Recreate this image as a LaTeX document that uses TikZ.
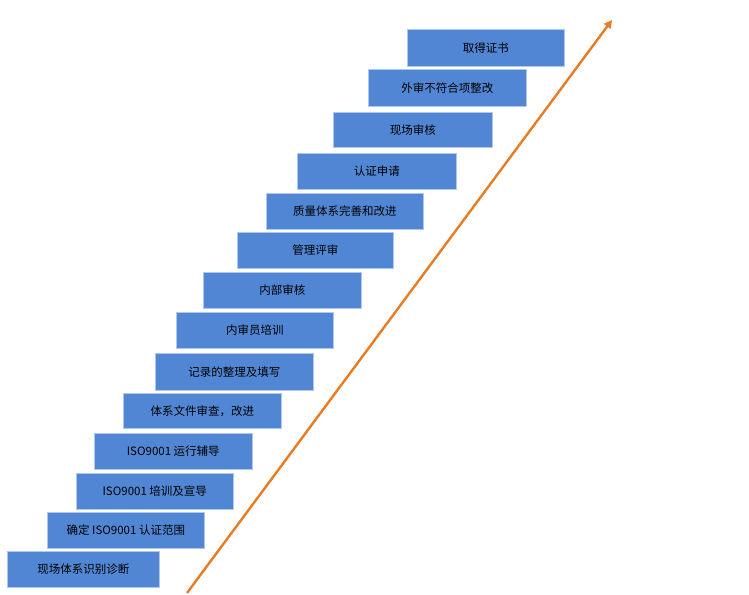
\documentclass[tikz,border=0pt]{standalone}
\usepackage{fontspec}
\newfontfamily\cjk{Noto Sans CJK SC}
\usetikzlibrary{arrows.meta}
\definecolor{boxblue}{RGB}{80,134,212}
\definecolor{boxedge}{RGB}{175,200,235}
\definecolor{arroworange}{RGB}{232,124,34}
\tikzset{
  stepbox/.style={draw=boxedge, line width=0.6pt, fill=boxblue, anchor=north west,
    inner sep=0pt, font=\cjk\fontsize{11.5}{13}\selectfont, text=black},
  growarrow/.style={draw=arroworange, line width=2.4pt,
    -{Triangle[length=8pt,width=8pt]}}
}
\begin{document}
\begin{tikzpicture}[x=1pt,y=-1pt]
\useasboundingbox (0,0) rectangle (749,594);
\foreach \i/\l/\t/\r/\b/\txt in {
  1/7/551/159/587/现场体系识别诊断,
  2/47/512/204/548/确定 ISO9001 认证范围,
  3/76/473/233/509/ISO9001 培训及宣导\hspace{18pt},
  4/94/433/252/469/ISO9001 运行辅导,
  5/123/393/281/428/体系文件审查，改进,
  6/155/353/313/390/记录的整理及填写,
  7/176/312/333/348/内审员培训,
  8/203/272/361/308/内部审核,
  9/237/232/393/268/管理评审,
  10/266/193/423/229/质量体系完善和改进,
  11/297/153/456/189/认证申请,
  12/333/112/492/147/现场审核,
  13/368/69/526/106/外审不符合项整改,
  14/407/29/564/66/取得证书}
{
  \pgfmathsetmacro{\w}{\r-\l}
  \pgfmathsetmacro{\h}{\b-\t}
  \node[stepbox, minimum width=\w pt, minimum height=\h pt] (b\i) at (\l,\t) {\txt};
}
\coordinate (arrowstart) at (187,593);
\coordinate (arrowend) at (612,20);
\draw[growarrow] (arrowstart) -- (arrowend);
\end{tikzpicture}
\end{document}
